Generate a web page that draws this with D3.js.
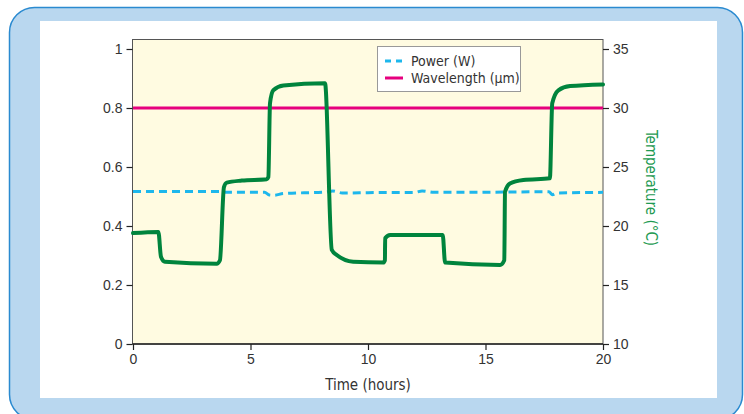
<!DOCTYPE html>
<html>
<head>
<meta charset="utf-8">
<script src="https://cdn.jsdelivr.net/npm/d3@7"></script>
<style>
  body { margin: 0; background: #fff; }
  svg { display: block; font-family: "Liberation Sans Narrow", "DejaVu Sans Condensed", "Liberation Sans", sans-serif; }
</style>
</head>
<body>
<div id="chart"></div>
<script>
// time (hours) / temperature (°C)
const tempTime = [0, 1.08, 1.19, 1.36, 3.56, 3.7, 3.87, 3.99, 4.63, 5.69, 5.76, 5.83, 5.97, 6.4, 8.17,
  8.46, 8.67, 9.37, 10.65, 10.72, 10.73, 10.94, 13.18, 13.28, 15.62, 15.8, 15.83, 16.04, 16.61, 17.74,
  17.84, 18.1, 18.6, 20];
const tempValues = [19.4, 19.5, 17.4, 16.97, 16.8, 17.1, 23.3, 23.67, 23.85, 23.96, 24.15, 30.4, 31.5, 31.9, 32.1,
  17.97, 17.54, 16.97, 16.9, 17.1, 18.96, 19.24, 19.24, 16.9, 16.7, 17.1, 22.9, 23.6, 23.9, 24.04,
  30.4, 31.5, 31.86, 32.0];

const powerTime = [0, 3.7, 4.0, 5.6, 5.8, 6.0, 6.4, 8.2, 8.5, 8.9, 10, 12.0, 12.3, 12.8, 15.8, 17.7, 17.85, 18.05, 20];
const powerValues = [0.517, 0.517, 0.514, 0.514, 0.505, 0.504, 0.51, 0.515, 0.519, 0.512, 0.513, 0.514, 0.519, 0.514,
  0.515, 0.516, 0.506, 0.512, 0.514];

const waveTime = [0, 20];
const waveValues = [0.8, 0.8];

const xTicks = [0, 5, 10, 15, 20];
const leftTicks = [0, 0.2, 0.4, 0.6, 0.8, 1];
const rightTicks = [10, 15, 20, 25, 30, 35];
const legendLabels = ['Power (W)', 'Wavelength (µm)'];

const W = 744, H = 414;
const green = '#00843d', magenta = '#e6007e', cyan = '#1db7ec';

const svg = d3.select('#chart').append('svg')
  .attr('width', W)
  .attr('height', H);

// frame
svg.append('rect')
  .attr('x', 9.5).attr('y', 7.5)
  .attr('width', 733).attr('height', 412)
  .attr('rx', 25).attr('ry', 25)
  .attr('fill', '#b9d7ef')
  .attr('stroke', '#2a8ad0')
  .attr('stroke-width', 1.5);

svg.append('rect')
  .attr('x', 40).attr('y', 21)
  .attr('width', 677).attr('height', 377)
  .attr('fill', '#fff');

const x = d3.scaleLinear().domain([0, 20]).range([133, 603]);
const yL = d3.scaleLinear().domain([0, 1]).range([344, 49]);
const yR = d3.scaleLinear().domain([10, 35]).range([344, 49]);

// plot area
svg.append('rect')
  .attr('x', 132.5).attr('y', 39.5)
  .attr('width', 470.5).attr('height', 304.5)
  .attr('fill', '#fffbe1')
  .attr('stroke', '#555')
  .attr('stroke-width', 1);

const line = d3.line()
  .x(d => x(d[0]))
  .y(d => d[1]);

// wavelength
svg.append('path')
  .datum(d3.zip(waveTime, waveValues.map(v => yL(v))))
  .attr('d', line)
  .attr('fill', 'none')
  .attr('stroke', magenta)
  .attr('stroke-width', 3);

// power
svg.append('path')
  .datum(d3.zip(powerTime, powerValues.map(v => yL(v))))
  .attr('d', line.curve(d3.curveMonotoneX))
  .attr('fill', 'none')
  .attr('stroke', cyan)
  .attr('stroke-width', 3)
  .attr('stroke-dasharray', '8,5');

// temperature
svg.append('path')
  .datum(d3.zip(tempTime, tempValues.map(v => yR(v))))
  .attr('d', line.curve(d3.curveMonotoneX))
  .attr('fill', 'none')
  .attr('stroke', green)
  .attr('stroke-width', 4)
  .attr('stroke-linejoin', 'round')
  .attr('stroke-linecap', 'round');

function styleAxis(g) {
  g.select('.domain').remove();
  g.selectAll('.tick line').attr('stroke', '#222').attr('stroke-width', 1.2);
  g.selectAll('.tick text').attr('fill', '#333').attr('font-size', 14).attr('font-family', null);
}

svg.append('g')
  .attr('transform', 'translate(132.5,0)')
  .call(d3.axisLeft(yL).tickValues(leftTicks).tickFormat(d => String(d)).tickSize(6).tickPadding(4))
  .call(styleAxis);

svg.append('g')
  .attr('transform', 'translate(603,0)')
  .call(d3.axisRight(yR).tickValues(rightTicks).tickSize(6).tickPadding(4))
  .call(styleAxis);

svg.append('g')
  .attr('transform', 'translate(0,344)')
  .call(d3.axisBottom(x).tickValues(xTicks).tickSize(6).tickPadding(4))
  .call(styleAxis);

// bottom axis line
svg.append('line')
  .attr('x1', 132.5).attr('x2', 603)
  .attr('y1', 344).attr('y2', 344)
  .attr('stroke', '#222').attr('stroke-width', 1.5);

svg.append('text')
  .attr('x', 368).attr('y', 390)
  .attr('text-anchor', 'middle')
  .attr('font-size', 15)
  .attr('fill', '#333')
  .text('Time (hours)');

svg.append('text')
  .attr('transform', 'translate(646,188) rotate(90)')
  .attr('text-anchor', 'middle')
  .attr('font-size', 15)
  .attr('fill', '#1e9a52')
  .text('Temperature (°C)');

// legend
const legend = svg.append('g');
legend.append('rect')
  .attr('x', 377.5).attr('y', 46.5)
  .attr('width', 143).attr('height', 45)
  .attr('fill', '#fff')
  .attr('stroke', '#999');

legend.selectAll('line')
  .data(legendLabels)
  .join('line')
  .attr('x1', 385).attr('x2', 403)
  .attr('y1', (d, i) => 61 + i * 17)
  .attr('y2', (d, i) => 61 + i * 17)
  .attr('stroke', (d, i) => i === 0 ? cyan : magenta)
  .attr('stroke-width', 3)
  .attr('stroke-dasharray', (d, i) => i === 0 ? '6,5' : null);

legend.selectAll('text')
  .data(legendLabels)
  .join('text')
  .attr('x', 411)
  .attr('y', (d, i) => 66 + i * 17)
  .attr('font-size', 14)
  .attr('fill', '#333')
  .text(d => d);
</script>
</body>
</html>
